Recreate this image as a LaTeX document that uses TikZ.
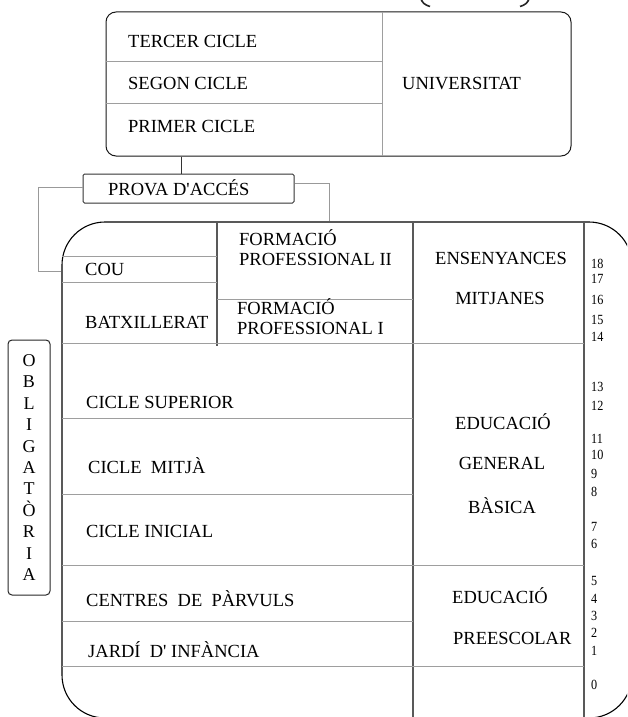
\documentclass[tikz,border=0pt]{standalone}
\usepackage{fontspec}
\setmainfont[Ligatures=NoCommon]{Liberation Serif}
\newfontfamily\numfont[FakeStretch=0.87]{Liberation Serif}
\begin{document}
\begin{tikzpicture}[x=1pt,y=-1pt,
  lbl/.style={anchor=base west, inner sep=0pt, font=\fontsize{18.5}{20}\selectfont},
  clbl/.style={anchor=base, inner sep=0pt, font=\fontsize{18.5}{20}\selectfont},
  mlbl/.style={anchor=south west, inner sep=0pt, align=left, font=\fontsize{18.5}{20.5}\selectfont},
  num/.style={anchor=base west, inner sep=0pt, font=\numfont\fontsize{14}{15}\selectfont},
  hline/.style={draw=black!38, line width=0.9pt},
  vline/.style={draw=black!65, line width=1.4pt},
  gline/.style={draw=black!40, line width=0.9pt},
  boxline/.style={draw=black!90, line width=1pt}]
\useasboundingbox (0,0) rectangle (627,717);
\clip (0,0) rectangle (627,717);

% partial parentheses at the top
\draw[line width=1.6pt, black!85] (421,-1) .. controls (422.5,3) and (425,5) .. (430,6.5);
\draw[line width=1.6pt, black!85] (529,-1) .. controls (527.5,3) and (525,5) .. (520,6.5);

% university box
\node[boxline, rounded corners=10pt, minimum width=465pt, minimum height=144pt, inner sep=0pt] (univ) at (338.5,84) {};
\draw[hline] (382,12) -- (382,156);
\draw[hline] (106,61) -- (382,61);
\draw[hline] (106,103) -- (382,103);
\node[lbl] (tercer) at (128,48) {TERCER CICLE};
\node[lbl] (segon) at (128,89.5) {SEGON CICLE};
\node[lbl] (primer) at (128,132) {PRIMER CICLE};
\node[lbl] (universitat) at (402,89.5) {UNIVERSITAT};

% access exam box
\node[draw=black!80, line width=1pt, rounded corners=1.5pt, minimum width=211pt, minimum height=29pt, inner sep=0pt] (prova) at (188.5,188.5) {};
\node[lbl] (provatxt) at (108,195) {PROVA D\textquotesingle ACCÉS};
\coordinate (cx) at (181,0);
\draw[draw=black!80, line width=1pt] (univ.south -| cx) -- (prova.north -| cx);

% big box
\node[draw=black, line width=1.1pt, rounded corners=43pt, minimum width=570pt, minimum height=496pt, inner sep=0pt] (big) at (347,470) {};

% gray connectors from the access exam box
\coordinate (cl) at (38,271);
\coordinate (cr) at (329,0);
\draw[gline] ([yshift=1.5pt]prova.west) -| (cl) -- (big.west |- cl);
\draw[gline] ([yshift=5.5pt]prova.east) -| (big.north -| cr);

% internal vertical lines
\draw[vline] (217,222) -- (217,346);
\draw[vline] (413,222) -- (413,718);
\draw[vline] (584,222) -- (584,718);

% internal horizontal lines
\draw[hline] (62,256) -- (217,256);
\draw[hline] (62,282) -- (217,282);
\draw[hline] (217,299) -- (413,299);
\draw[hline] (62,343) -- (584,343);
\draw[hline] (62,418) -- (413,418);
\draw[hline] (62,494) -- (413,494);
\draw[hline] (62,565) -- (584,565);
\draw[hline] (62,621) -- (413,621);
\draw[hline] (62,666) -- (584,666);

% left column labels
\node[lbl] (cou) at (85,275) {COU};
\node[lbl] (batx) at (85,328) {BATXILLERAT};
\node[mlbl] (fp2) at (239,266) {FORMACIÓ\\PROFESSIONAL II};
\node[mlbl] (fp1) at (237,335) {FORMACIÓ\\PROFESSIONAL I};
\node[lbl] (csup) at (86,408) {CICLE SUPERIOR};
\node[lbl] (cmit) at (88,473) {CICLE~~MITJÀ};
\node[lbl] (cini) at (86,537) {CICLE INICIAL};
\node[lbl] (cpar) at (86,606) {CENTRES~~DE~~PÀRVULS};
\node[lbl] (jardi) at (88,657) {JARDÍ~~D\textquotesingle\ INFÀNCIA};

% middle column labels
\node[clbl] (ens) at (501,264) {ENSENYANCES};
\node[clbl] (mitj) at (500,304) {MITJANES};
\node[clbl] (egb1) at (503,429) {EDUCACIÓ};
\node[clbl] (egb2) at (502,469) {GENERAL};
\node[clbl] (egb3) at (502,513) {BÀSICA};
\node[lbl] (pre1) at (452,603) {EDUCACIÓ};
\node[lbl] (pre2) at (453,644) {PREESCOLAR};

% ages
\node[num] (a18) at (591,268.5) {18};
\node[num] (a17) at (591,283.5) {17};
\node[num] (a16) at (591,304.5) {16};
\node[num] (a15) at (591,324.5) {15};
\node[num] (a14) at (591,341.5) {14};
\node[num] (a13) at (591,391.5) {13};
\node[num] (a12) at (591,410.5) {12};
\node[num] (a11) at (591,443.5) {11};
\node[num] (a10) at (591,459.5) {10};
\node[num] (a9) at (591,478.5) {9};
\node[num] (a8) at (591,496.5) {8};
\node[num] (a7) at (591,531.5) {7};
\node[num] (a6) at (591,548.5) {6};
\node[num] (a5) at (591,585.5) {5};
\node[num] (a4) at (591,603.5) {4};
\node[num] (a3) at (591,620.5) {3};
\node[num] (a2) at (591,637.5) {2};
\node[num] (a1) at (591,655.5) {1};
\node[num] (a0) at (591,689.5) {0};

% compulsory bracket box
\node[draw=black!85, line width=1pt, rounded corners=4pt, minimum width=42pt, minimum height=255pt, inner sep=0pt,
      align=center, font=\fontsize{18}{21.4}\selectfont] (oblig) at (29,467.5)
  {O\\B\\L\\I\\G\\A\\T\\Ò\\R\\I\\A};
\end{tikzpicture}
\end{document}
